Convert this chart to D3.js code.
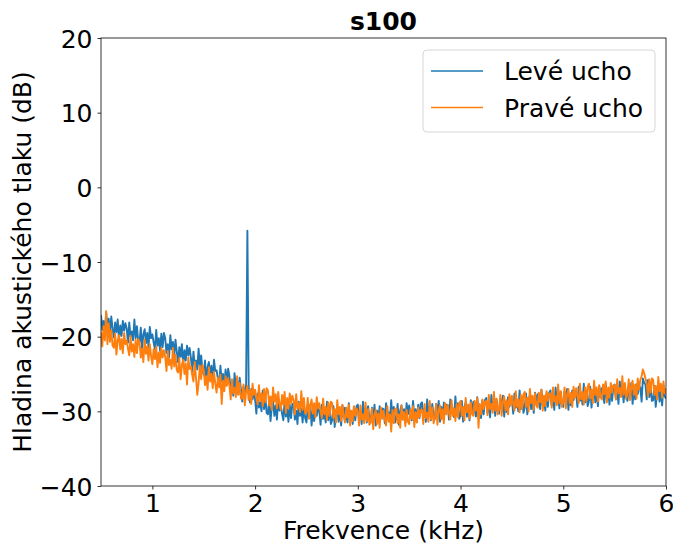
<!DOCTYPE html>
<html>
<head>
<meta charset="utf-8">
<script src="https://cdn.jsdelivr.net/npm/d3@7"></script>
<style>
  body { margin: 0; background: #fff; }
  svg text { font-family: "DejaVu Sans", sans-serif; fill: #000; }
</style>
</head>
<body>
<div id="chart"></div>
<script>
/* Data */
var title = "s100";
var seriesNames = ["Levé ucho", "Pravé ucho"];
var seriesColors = ["#1f77b4", "#ff7f0e"];
var xTicks = [1, 2, 3, 4, 5, 6];
var yTicks = [-40, -30, -20, -10, 0, 10, 20];

// frequency (kHz)
var freq = [
  0.5000, 0.5125, 0.5250, 0.5375, 0.5500, 0.5625, 0.5750, 0.5875, 0.6000, 0.6125,
  0.6250, 0.6375, 0.6500, 0.6625, 0.6750, 0.6875, 0.7000, 0.7125, 0.7250, 0.7375,
  0.7500, 0.7625, 0.7750, 0.7875, 0.8000, 0.8125, 0.8250, 0.8375, 0.8500, 0.8625,
  0.8750, 0.8875, 0.9000, 0.9125, 0.9250, 0.9375, 0.9500, 0.9625, 0.9750, 0.9875,
  1.0000, 1.0125, 1.0250, 1.0375, 1.0500, 1.0625, 1.0750, 1.0875, 1.1000, 1.1125,
  1.1250, 1.1375, 1.1500, 1.1625, 1.1750, 1.1875, 1.2000, 1.2125, 1.2250, 1.2375,
  1.2500, 1.2625, 1.2750, 1.2875, 1.3000, 1.3125, 1.3250, 1.3375, 1.3500, 1.3625,
  1.3750, 1.3875, 1.4000, 1.4125, 1.4250, 1.4375, 1.4500, 1.4625, 1.4750, 1.4875,
  1.5000, 1.5125, 1.5250, 1.5375, 1.5500, 1.5625, 1.5750, 1.5875, 1.6000, 1.6125,
  1.6250, 1.6375, 1.6500, 1.6625, 1.6750, 1.6875, 1.7000, 1.7125, 1.7250, 1.7375,
  1.7500, 1.7625, 1.7750, 1.7875, 1.8000, 1.8125, 1.8250, 1.8375, 1.8500, 1.8625,
  1.8750, 1.8875, 1.9000, 1.9125, 1.9250, 1.9375, 1.9500, 1.9625, 1.9750, 1.9875,
  2.0000, 2.0125, 2.0250, 2.0375, 2.0500, 2.0625, 2.0750, 2.0875, 2.1000, 2.1125,
  2.1250, 2.1375, 2.1500, 2.1625, 2.1750, 2.1875, 2.2000, 2.2125, 2.2250, 2.2375,
  2.2500, 2.2625, 2.2750, 2.2875, 2.3000, 2.3125, 2.3250, 2.3375, 2.3500, 2.3625,
  2.3750, 2.3875, 2.4000, 2.4125, 2.4250, 2.4375, 2.4500, 2.4625, 2.4750, 2.4875,
  2.5000, 2.5125, 2.5250, 2.5375, 2.5500, 2.5625, 2.5750, 2.5875, 2.6000, 2.6125,
  2.6250, 2.6375, 2.6500, 2.6625, 2.6750, 2.6875, 2.7000, 2.7125, 2.7250, 2.7375,
  2.7500, 2.7625, 2.7750, 2.7875, 2.8000, 2.8125, 2.8250, 2.8375, 2.8500, 2.8625,
  2.8750, 2.8875, 2.9000, 2.9125, 2.9250, 2.9375, 2.9500, 2.9625, 2.9750, 2.9875,
  3.0000, 3.0125, 3.0250, 3.0375, 3.0500, 3.0625, 3.0750, 3.0875, 3.1000, 3.1125,
  3.1250, 3.1375, 3.1500, 3.1625, 3.1750, 3.1875, 3.2000, 3.2125, 3.2250, 3.2375,
  3.2500, 3.2625, 3.2750, 3.2875, 3.3000, 3.3125, 3.3250, 3.3375, 3.3500, 3.3625,
  3.3750, 3.3875, 3.4000, 3.4125, 3.4250, 3.4375, 3.4500, 3.4625, 3.4750, 3.4875,
  3.5000, 3.5125, 3.5250, 3.5375, 3.5500, 3.5625, 3.5750, 3.5875, 3.6000, 3.6125,
  3.6250, 3.6375, 3.6500, 3.6625, 3.6750, 3.6875, 3.7000, 3.7125, 3.7250, 3.7375,
  3.7500, 3.7625, 3.7750, 3.7875, 3.8000, 3.8125, 3.8250, 3.8375, 3.8500, 3.8625,
  3.8750, 3.8875, 3.9000, 3.9125, 3.9250, 3.9375, 3.9500, 3.9625, 3.9750, 3.9875,
  4.0000, 4.0125, 4.0250, 4.0375, 4.0500, 4.0625, 4.0750, 4.0875, 4.1000, 4.1125,
  4.1250, 4.1375, 4.1500, 4.1625, 4.1750, 4.1875, 4.2000, 4.2125, 4.2250, 4.2375,
  4.2500, 4.2625, 4.2750, 4.2875, 4.3000, 4.3125, 4.3250, 4.3375, 4.3500, 4.3625,
  4.3750, 4.3875, 4.4000, 4.4125, 4.4250, 4.4375, 4.4500, 4.4625, 4.4750, 4.4875,
  4.5000, 4.5125, 4.5250, 4.5375, 4.5500, 4.5625, 4.5750, 4.5875, 4.6000, 4.6125,
  4.6250, 4.6375, 4.6500, 4.6625, 4.6750, 4.6875, 4.7000, 4.7125, 4.7250, 4.7375,
  4.7500, 4.7625, 4.7750, 4.7875, 4.8000, 4.8125, 4.8250, 4.8375, 4.8500, 4.8625,
  4.8750, 4.8875, 4.9000, 4.9125, 4.9250, 4.9375, 4.9500, 4.9625, 4.9750, 4.9875,
  5.0000, 5.0125, 5.0250, 5.0375, 5.0500, 5.0625, 5.0750, 5.0875, 5.1000, 5.1125,
  5.1250, 5.1375, 5.1500, 5.1625, 5.1750, 5.1875, 5.2000, 5.2125, 5.2250, 5.2375,
  5.2500, 5.2625, 5.2750, 5.2875, 5.3000, 5.3125, 5.3250, 5.3375, 5.3500, 5.3625,
  5.3750, 5.3875, 5.4000, 5.4125, 5.4250, 5.4375, 5.4500, 5.4625, 5.4750, 5.4875,
  5.5000, 5.5125, 5.5250, 5.5375, 5.5500, 5.5625, 5.5750, 5.5875, 5.6000, 5.6125,
  5.6250, 5.6375, 5.6500, 5.6625, 5.6750, 5.6875, 5.7000, 5.7125, 5.7250, 5.7375,
  5.7500, 5.7625, 5.7750, 5.7875, 5.8000, 5.8125, 5.8250, 5.8375, 5.8500, 5.8625,
  5.8750, 5.8875, 5.9000, 5.9125, 5.9250, 5.9375, 5.9500, 5.9625, 5.9750, 5.9875,
  6.0000
];

// Levé ucho (left ear), dB
var leftEar = [
  -17.1, -19.1, -17.9, -19.7, -16.7, -18.6, -17.6, -19.5, -17.3, -18.9,
  -20.1, -18.1, -19.4, -17.7, -20.5, -18.5, -19.9, -17.9, -19.2, -18.2,
  -18.9, -20.8, -18.1, -20.0, -19.3, -20.5, -17.7, -20.2, -18.6, -20.7,
  -20.7, -18.8, -21.6, -19.7, -19.0, -20.9, -19.5, -21.4, -18.7, -20.2,
  -19.7, -20.8, -21.7, -19.1, -21.2, -20.2, -21.9, -19.6, -21.4, -19.5,
  -20.2, -22.2, -21.0, -22.8, -19.8, -21.7, -20.7, -22.6, -20.4, -22.0,
  -23.4, -21.4, -22.7, -21.0, -23.8, -21.8, -23.2, -21.2, -22.5, -21.5,
  -22.8, -24.7, -22.0, -23.9, -23.2, -24.4, -21.6, -24.1, -22.5, -24.6,
  -25.1, -23.2, -26.0, -24.1, -23.4, -25.3, -23.9, -25.8, -23.1, -24.6,
  -24.5, -25.6, -26.5, -23.9, -26.0, -25.0, -26.7, -24.4, -26.2, -24.3,
  -25.3, -27.3, -26.1, -27.9, -24.9, -26.8, -25.8, -27.7, -25.5, -27.1,
  -28.7, -26.7, -28.0, -26.4, -5.8, -26.6, -28.8, -27.0, -28.4, -27.4,
  -28.4, -30.3, -27.6, -29.5, -28.8, -30.0, -27.2, -29.7, -28.1, -30.2,
  -30.4, -28.5, -31.3, -29.4, -28.7, -30.6, -29.2, -31.1, -28.4, -29.9,
  -29.2, -30.3, -31.2, -28.6, -30.7, -29.7, -31.4, -29.1, -30.9, -29.0,
  -29.1, -31.1, -29.9, -31.7, -28.7, -30.6, -29.6, -31.5, -29.3, -30.9,
  -31.5, -29.5, -30.8, -29.1, -31.9, -29.9, -31.3, -29.3, -30.6, -29.6,
  -29.9, -31.8, -29.1, -31.0, -30.3, -31.5, -28.7, -31.2, -29.6, -31.7,
  -31.2, -29.3, -32.1, -30.2, -29.5, -31.4, -30.0, -31.9, -29.2, -30.7,
  -29.5, -30.6, -31.5, -28.9, -31.0, -30.0, -31.7, -29.4, -31.2, -29.3,
  -29.1, -31.1, -29.9, -31.7, -28.7, -30.6, -29.6, -31.5, -29.3, -30.9,
  -31.5, -29.5, -30.8, -29.1, -31.9, -29.9, -31.3, -29.3, -30.6, -29.6,
  -29.7, -31.6, -28.9, -30.8, -30.1, -31.3, -28.5, -31.0, -29.4, -31.5,
  -30.9, -29.0, -31.8, -29.9, -29.2, -31.1, -29.7, -31.6, -28.9, -30.4,
  -29.2, -30.3, -31.2, -28.6, -30.7, -29.7, -31.4, -29.1, -30.9, -29.0,
  -28.8, -30.8, -29.6, -31.4, -28.4, -30.3, -29.3, -31.2, -29.0, -30.6,
  -31.0, -29.0, -30.3, -28.6, -31.4, -29.4, -30.8, -28.8, -30.1, -29.1,
  -29.2, -31.1, -28.4, -30.3, -29.6, -30.8, -28.0, -30.5, -28.9, -31.0,
  -30.5, -28.6, -31.4, -29.5, -28.8, -30.7, -29.3, -31.2, -28.5, -30.0,
  -28.7, -29.8, -30.7, -28.1, -30.2, -29.2, -30.9, -28.6, -30.4, -28.5,
  -28.2, -30.2, -29.0, -30.8, -27.8, -29.7, -28.7, -30.6, -28.4, -30.0,
  -30.3, -28.3, -29.6, -27.9, -30.7, -28.7, -30.1, -28.1, -29.4, -28.4,
  -28.4, -30.3, -27.6, -29.5, -28.8, -30.0, -27.2, -29.7, -28.1, -30.2,
  -29.5, -27.6, -30.4, -28.5, -27.8, -29.7, -28.3, -30.2, -27.5, -29.0,
  -27.7, -28.8, -29.7, -27.1, -29.2, -28.2, -29.9, -27.6, -29.4, -27.5,
  -27.2, -29.2, -28.0, -29.8, -26.8, -28.7, -27.7, -29.6, -27.4, -29.0,
  -29.4, -27.4, -28.7, -27.0, -29.8, -27.8, -29.2, -27.2, -28.5, -27.5,
  -27.5, -29.4, -26.7, -28.6, -27.9, -29.1, -26.3, -28.8, -27.2, -29.3,
  -28.6, -26.7, -29.5, -27.6, -26.9, -28.8, -27.4, -29.3, -26.6, -28.1,
  -26.9, -28.0, -28.9, -26.3, -28.4, -27.4, -29.1, -26.8, -28.6, -26.7,
  -26.4, -28.4, -27.2, -29.0, -26.0, -27.9, -26.9, -28.8, -26.6, -28.2,
  -28.6, -26.6, -27.9, -26.2, -29.0, -27.0, -28.4, -26.4, -27.7, -26.7,
  -26.8, -28.7, -25.6, -26.2, -26.4, -28.4, -25.8, -28.1, -26.5, -28.6,
  -28.5, -26.6, -29.4, -27.5, -26.8, -28.7, -27.3, -29.2, -26.5, -28.0,
  -28.3
];

// Pravé ucho (right ear), dB
var rightEar = [
  -19.4, -21.3, -18.6, -20.5, -16.6, -21.0, -18.2, -20.7, -19.1, -21.2,
  -21.5, -19.6, -22.4, -20.5, -19.8, -21.7, -20.3, -22.2, -19.5, -21.0,
  -20.5, -21.6, -22.5, -19.9, -22.0, -21.0, -22.7, -20.4, -22.2, -20.3,
  -20.8, -22.8, -21.6, -23.4, -20.4, -22.3, -21.3, -23.2, -21.0, -22.6,
  -23.7, -21.7, -23.0, -21.3, -24.1, -22.1, -23.5, -21.5, -22.8, -21.8,
  -22.7, -24.6, -21.9, -23.8, -23.1, -24.3, -21.5, -24.0, -22.4, -24.5,
  -24.8, -22.9, -25.7, -23.8, -23.1, -25.0, -23.6, -26.4, -22.8, -24.3,
  -24.0, -25.1, -26.0, -23.4, -25.5, -27.8, -26.2, -23.9, -25.7, -23.8,
  -24.5, -26.5, -25.3, -27.1, -24.1, -26.0, -25.0, -26.9, -24.7, -26.3,
  -27.5, -25.5, -26.8, -25.1, -29.0, -25.9, -27.3, -25.3, -26.6, -25.6,
  -26.5, -28.4, -25.7, -27.6, -26.9, -28.1, -25.3, -27.8, -26.2, -28.3,
  -28.3, -26.4, -29.2, -27.3, -26.6, -28.5, -27.1, -29.0, -26.3, -27.8,
  -27.1, -28.2, -29.1, -26.5, -28.6, -27.6, -29.3, -27.0, -28.8, -26.9,
  -27.2, -29.2, -28.0, -29.8, -26.8, -28.7, -27.7, -29.6, -27.4, -29.0,
  -29.8, -27.8, -29.1, -27.4, -30.2, -28.2, -29.6, -27.6, -28.9, -27.9,
  -28.5, -30.4, -27.7, -29.6, -28.9, -30.1, -27.3, -29.8, -28.2, -30.3,
  -30.1, -28.2, -31.0, -29.1, -28.4, -30.3, -28.9, -30.8, -28.1, -29.6,
  -28.9, -30.0, -30.9, -28.3, -30.4, -29.4, -31.1, -28.8, -30.6, -28.7,
  -28.9, -30.9, -29.7, -31.5, -28.5, -30.4, -29.4, -31.3, -29.1, -30.7,
  -31.5, -29.5, -30.8, -29.1, -31.9, -29.9, -31.3, -29.3, -30.6, -29.6,
  -30.0, -31.9, -29.2, -31.1, -30.4, -31.6, -28.8, -31.3, -29.7, -31.8,
  -31.5, -29.6, -32.4, -30.5, -29.8, -31.7, -30.3, -32.2, -29.5, -31.0,
  -29.9, -31.0, -31.9, -29.3, -31.4, -30.4, -32.7, -29.8, -31.6, -29.7,
  -29.6, -31.6, -30.4, -32.2, -29.2, -31.1, -30.1, -32.0, -29.8, -31.4,
  -31.7, -29.7, -31.0, -29.3, -32.1, -30.1, -31.5, -29.5, -30.8, -29.8,
  -29.8, -31.7, -29.0, -30.9, -30.2, -31.4, -28.6, -31.1, -29.5, -31.6,
  -30.9, -29.0, -31.8, -29.9, -29.2, -31.1, -29.7, -31.6, -28.9, -30.4,
  -29.1, -30.2, -31.1, -28.5, -30.6, -29.6, -31.3, -29.0, -30.8, -28.9,
  -28.6, -30.6, -29.4, -31.2, -28.2, -30.1, -29.1, -31.0, -28.8, -30.4,
  -30.6, -28.6, -29.9, -28.2, -32.2, -29.0, -30.4, -28.4, -29.7, -28.7,
  -28.6, -30.5, -27.8, -29.7, -29.0, -30.2, -27.4, -29.9, -28.3, -30.4,
  -29.7, -27.8, -30.6, -28.7, -28.0, -29.9, -28.5, -30.4, -27.7, -29.2,
  -27.9, -29.0, -29.9, -27.3, -29.4, -28.4, -30.1, -27.8, -29.6, -27.7,
  -27.4, -29.4, -28.2, -30.0, -27.0, -28.9, -27.9, -29.8, -27.6, -29.2,
  -29.5, -27.5, -28.8, -27.1, -29.9, -27.9, -29.3, -27.3, -28.6, -27.6,
  -27.6, -29.5, -26.8, -28.7, -28.0, -29.2, -26.4, -28.9, -27.3, -29.4,
  -28.7, -26.8, -29.6, -27.7, -27.0, -28.9, -27.5, -29.4, -26.7, -28.2,
  -26.9, -28.0, -28.9, -26.3, -28.4, -27.4, -29.1, -26.8, -28.6, -26.7,
  -26.3, -28.3, -27.1, -28.9, -25.9, -27.8, -26.8, -28.7, -26.5, -28.1,
  -28.4, -26.4, -27.7, -26.0, -28.8, -26.8, -28.2, -26.2, -27.5, -26.5,
  -26.5, -28.4, -25.7, -27.6, -26.9, -28.1, -25.3, -27.8, -26.2, -28.3,
  -27.6, -25.7, -28.5, -26.6, -25.9, -27.8, -26.4, -28.3, -25.6, -27.1,
  -25.8, -25.3, -24.4, -24.9, -25.6, -26.3, -28.0, -25.7, -27.5, -25.6,
  -25.8, -27.8, -26.6, -28.4, -25.4, -27.3, -26.3, -28.2, -26.0, -27.6,
  -26.9
];

var W = 673, H = 545;
var margin = { left: 101, right: 7, top: 38, bottom: 59 };
var FS = "25px";

var svg = d3.select("#chart").append("svg")
    .attr("width", W)
    .attr("height", H);

var x = d3.scaleLinear().domain([0.5, 6]).range([margin.left, W - margin.right]);
var y = d3.scaleLinear().domain([-40, 20]).range([H - margin.bottom, margin.top]);

/* clip for the lines */
svg.append("clipPath").attr("id", "plotclip")
  .append("rect")
    .attr("x", x.range()[0]).attr("y", y.range()[1])
    .attr("width", x.range()[1] - x.range()[0])
    .attr("height", y.range()[0] - y.range()[1]);

var series = [leftEar, rightEar];
var line = d3.line()
    .x(function(d, i) { return x(freq[i]); })
    .y(function(d) { return y(d); });

var lines = svg.append("g").attr("clip-path", "url(#plotclip)");
series.forEach(function(s, k) {
    lines.append("path")
        .datum(s)
        .attr("d", line)
        .attr("fill", "none")
        .attr("stroke", seriesColors[k])
        .attr("stroke-width", 1.9)
        .attr("stroke-linejoin", "round");
});

/* axes */
var fmt = function(d) { return d < 0 ? "\u2212" + Math.abs(d) : String(d); };

var xAxis = svg.append("g")
    .attr("transform", "translate(0," + y.range()[0] + ")")
    .call(d3.axisBottom(x).tickValues(xTicks).tickSize(3.5).tickPadding(5).tickFormat(fmt));
var yAxis = svg.append("g")
    .attr("transform", "translate(" + x.range()[0] + ",0)")
    .call(d3.axisLeft(y).tickValues(yTicks).tickSize(3.5).tickPadding(5).tickFormat(fmt));

[xAxis, yAxis].forEach(function(a) {
    a.select(".domain").remove();
    a.selectAll(".tick line").attr("stroke", "#000").attr("stroke-width", 0.8);
    a.selectAll(".tick text")
        .style("font-size", FS)
        .style("font-family", "'DejaVu Sans', sans-serif");
});
yAxis.selectAll(".tick text").attr("dy", "0.36em");

/* frame */
svg.append("rect")
    .attr("x", x.range()[0]).attr("y", y.range()[1])
    .attr("width", x.range()[1] - x.range()[0])
    .attr("height", y.range()[0] - y.range()[1])
    .attr("fill", "none")
    .attr("stroke", "#000")
    .attr("stroke-width", 0.8);

/* labels */
var cx = (x.range()[0] + x.range()[1]) / 2;
svg.append("text")
    .attr("x", cx).attr("y", 30)
    .attr("text-anchor", "middle")
    .style("font-size", FS)
    .style("font-weight", "bold")
    .text(title);

svg.append("text")
    .attr("x", cx).attr("y", 539)
    .attr("text-anchor", "middle")
    .style("font-size", FS)
    .text("Frekvence (kHz)");

svg.append("text")
    .attr("transform", "translate(31," + (y.range()[0] + y.range()[1]) / 2 + ") rotate(-90)")
    .attr("text-anchor", "middle")
    .style("font-size", FS)
    .text("Hladina akustického tlaku (dB)");

/* legend */
var lg = svg.append("g").attr("transform", "translate(423,50)");
lg.append("rect")
    .attr("width", 232).attr("height", 82)
    .attr("rx", 4)
    .attr("fill", "#fff").attr("fill-opacity", 0.8)
    .attr("stroke", "#d6d6d6").attr("stroke-width", 1);
seriesNames.forEach(function(name, k) {
    var yy = 21 + k * 36.5;
    lg.append("line")
        .attr("x1", 8).attr("x2", 60)
        .attr("y1", yy).attr("y2", yy)
        .attr("stroke", seriesColors[k]).attr("stroke-width", 1.5);
    lg.append("text")
        .attr("x", 81).attr("y", yy + 9)
        .style("font-size", FS)
        .text(name);
});
</script>
</body>
</html>
